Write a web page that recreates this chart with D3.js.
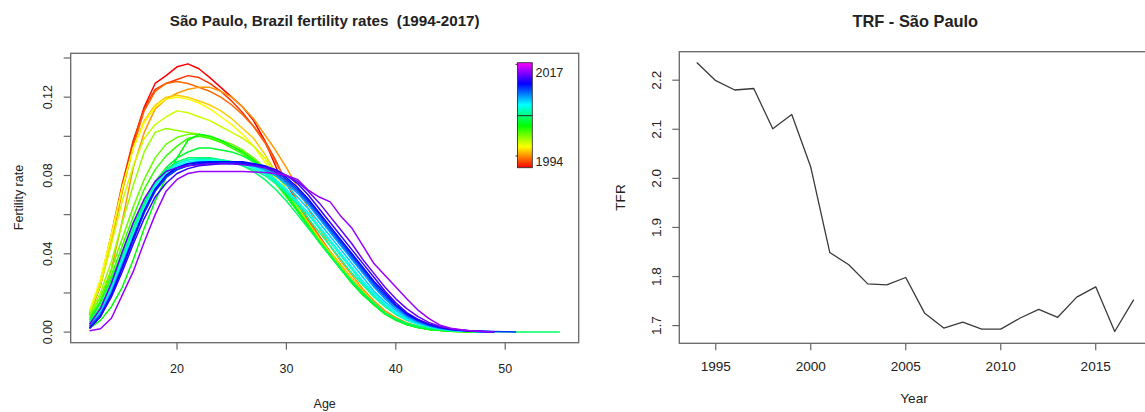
<!DOCTYPE html>
<html><head><meta charset="utf-8">
<script src="https://cdn.jsdelivr.net/npm/d3@7"></script>
<style>body{margin:0;background:#fff}svg{display:block;font-family:"Liberation Sans",Arial,sans-serif}</style>
</head><body><svg id="c" width="1145" height="412"></svg>
<script>
const ages = [12,13,14,15,16,17,18,19,20,21,22,23,24,25,26,27,28,29,30,31,32,33,34,35,36,37,38,39,40,41,42,43,44,45,46,47,48,49,50,51,52,53,54,55];
const years = [1994,1995,1996,1997,1998,1999,2000,2001,2002,2003,2004,2005,2006,2007,2008,2009,2010,2011,2012,2013,2014,2015,2016,2017];
const f1994 = [.009,.024,.048,.074,.097,.115,.127,.131,.1355,.137,.1345,.130,.125,.120,.115,.108,.098,.085,.072,.064,.056,.048,.040,.033,.026,.020,.014,.0095,.0065,.004,.0025,.0015,.001,.0006,.0004,.0002,.0001,.0001];
const f1995 = [.010,.026,.050,.076,.098,.114,.124,.127,.129,.131,.130,.127,.123,.118,.112,.105,.098,.088,.076,.066,.057,.049,.041,.034,.027,.021,.015,.010,.0068,.0043,.0027,.0016,.001,.0006,.0004,.0002,.0001,.0001];
const f1996 = [.009,.024,.046,.072,.095,.113,.123,.127,.128,.127,.125,.123,.120,.116,.111,.105,.097,.087,.077,.067,.058,.049,.041,.034,.027,.021,.015,.010,.0068,.0043,.0027,.0016,.001,.0006,.0004,.0002,.0001,.0001];
const f1997 = [.006,.015,.032,.057,.084,.102,.114,.119,.122,.124,.125,.125,.123,.120,.115,.109,.101,.093,.084,.074,.063,.053,.044,.036,.029,.022,.016,.011,.0075,.0048,.003,.0018,.0011,.0007,.0004,.0002,.0001,.0001];
const f1998 = [.010,.025,.048,.073,.094,.108,.116,.120,.121,.120,.118,.116,.113,.109,.104,.099,.091,.082,.073,.064,.056,.048,.041,.034,.027,.021,.015,.010,.0068,.0043,.0027,.0016,.001,.0006,.0004,.0002,.0001,.0001];
const f1999 = [.011,.027,.050,.074,.094,.107,.115,.119,.120,.119,.117,.114,.110,.106,.101,.095,.087,.079,.071,.062,.054,.046,.039,.032,.026,.020,.014,.0095,.0063,.004,.0025,.0015,.0009,.0005,.0003,.0002,.0001,.0001];
const f2000 = [.010,.024,.045,.067,.085,.099,.106,.110,.113,.112,.110,.108,.105,.102,.099,.095,.089,.081,.073,.064,.055,.047,.040,.033,.026,.020,.014,.0095,.0063,.004,.0025,.0015,.0009,.0005,.0003,.0002,.0001,.0001];
const f2001 = [.009,.020,.036,.056,.075,.092,.102,.104,.103,.102,.101,.099,.097,.095,.092,.088,.083,.077,.070,.062,.054,.046,.039,.032,.025,.019,.014,.0093,.0062,.0039,.0024,.0014,.0009,.0005,.0003,.0002,.0001,.0001];
const f2002 = [.008,.018,.032,.048,.064,.078,.089,.096,.0995,.101,.101,.100,.098,.096,.093,.089,.084,.078,.071,.063,.055,.047,.040,.033,.026,.020,.014,.0095,.0063,.004,.0025,.0015,.0009,.0005,.0003,.0002,.0001,.0001];
const f2003 = [.007,.016,.029,.044,.059,.073,.083,.090,.095,.099,.100,.099,.097,.094,.091,.087,.082,.076,.069,.062,.054,.046,.039,.032,.026,.020,.014,.0095,.0063,.004,.0025,.0015,.0009,.0005,.0003,.0002,.0001,.0001];
const f2004 = [.002,.006,.013,.023,.037,.053,.067,.079,.089,.098,.101,.100,.098,.095,.092,.088,.083,.077,.070,.062,.054,.046,.039,.032,.025,.019,.014,.0093,.0062,.0039,.0024,.0014,.0009,.0005,.0003,.0002,.0001,.0001];
const f2005 = [.006,.015,.027,.041,.055,.067,.077,.084,.089,.092,.094,.094,.093,.092,.090,.087,.083,.077,.070,.062,.054,.046,.039,.032,.025,.019,.014,.0093,.0062,.0039,.0024,.0014,.0009,.0005,.0003,.0002,.0001,.0001];
const f2006 = [.005,.013,.025,.039,.053,.066,.076,.083,.087,.089,.089,.089,.088,.087,.085,.082,.078,.073,.067,.060,.053,.046,.039,.032,.026,.020,.015,.010,.0068,.0045,.003,.002,.0013,.0009,.0006,.0004,.0003,.0002,.0002,.0001,.0001,.0001,.0001,.0001];
const f2007 = [.004,.012,.024,.038,.052,.065,.075,.082,.086,.088,.0885,.0885,.088,.087,.085,.083,.080,.076,.071,.065,.058,.051,.044,.037,.030,.024,.018,.013,.009,.006,.004,.0025,.0015,.001,.0006,.0004,.0002,.0001];
const f2008 = [.004,.011,.023,.037,.051,.064,.075,.082,.086,.088,.088,.088,.0875,.087,.086,.084,.081,.077,.072,.066,.060,.053,.046,.039,.032,.025,.019,.014,.0095,.0064,.0042,.0027,.0016,.001,.0006,.0004,.0002,.0001];
const f2009 = [.004,.011,.022,.036,.050,.063,.074,.081,.085,.087,.0875,.0875,.087,.0865,.086,.084,.082,.078,.073,.067,.061,.054,.047,.040,.033,.026,.020,.0145,.010,.0067,.0044,.0028,.0017,.001,.0006,.0004,.0002,.0001];
const f2010 = [.003,.010,.021,.035,.049,.062,.073,.080,.084,.086,.087,.087,.087,.0865,.086,.085,.083,.080,.075,.069,.063,.056,.049,.042,.035,.028,.021,.0155,.011,.0073,.0048,.003,.0018,.0011,.0007,.0004,.0002,.0001];
const f2011 = [.003,.009,.020,.034,.048,.061,.072,.079,.083,.085,.086,.0865,.0865,.0865,.086,.085,.083,.080,.076,.071,.065,.058,.051,.044,.037,.030,.023,.017,.012,.008,.0052,.0033,.002,.0012,.0007,.0004,.0002,.0001];
const f2012 = [.003,.009,.020,.034,.048,.062,.073,.080,.084,.086,.087,.087,.087,.087,.0865,.0855,.084,.081,.077,.072,.066,.059,.052,.045,.038,.031,.024,.018,.013,.0086,.0056,.0035,.0021,.0013,.0008,.0005,.0003,.0002];
const f2013 = [.002,.008,.019,.033,.047,.061,.072,.079,.083,.085,.086,.0865,.087,.087,.0865,.086,.0845,.082,.078,.073,.067,.060,.053,.046,.039,.032,.025,.019,.0135,.009,.006,.0038,.0023,.0014,.0009,.0006,.0004,.0003,.0002,.0001];
const f2014 = [.002,.008,.019,.033,.048,.062,.073,.080,.084,.086,.0865,.087,.087,.087,.087,.086,.085,.083,.079,.074,.068,.061,.054,.047,.040,.033,.026,.020,.014,.0095,.0063,.004,.0025,.0015,.0009,.0005,.0003,.0002];
const f2015 = [.002,.008,.018,.031,.045,.058,.069,.076,.081,.0835,.085,.0855,.086,.086,.086,.0855,.0845,.083,.080,.076,.070,.063,.056,.049,.042,.035,.028,.021,.015,.010,.0066,.0042,.0026,.0016,.001,.0006,.0003,.0002];
const f2016 = [.004,.012,.025,.041,.056,.068,.077,.082,.084,.085,.0855,.086,.086,.086,.0855,.085,.084,.082,.080,.077,.072,.066,.059,.052,.045,.037,.030,.023,.017,.012,.008,.005,.003,.0018,.001,.0006,.0003,.0002];
const f2017 = [.0007,.0017,.0071,.019,.031,.046,.060,.072,.078,.081,.082,.082,.082,.082,.082,.0818,.0815,.081,.080,.078,.0725,.069,.0665,.059,.053,.044,.035,.029,.023,.017,.0114,.007,.0037,.002,.0012,.0006,.0003,.0002];
const rates = [f1994,f1995,f1996,f1997,f1998,f1999,f2000,f2001,f2002,f2003,f2004,f2005,f2006,f2007,f2008,f2009,f2010,f2011,f2012,f2013,f2014,f2015,f2016,f2017];
const tfr = [2.236,2.199,2.180,2.183,2.101,2.130,2.023,1.849,1.824,1.785,1.783,1.798,1.725,1.695,1.707,1.693,1.693,1.715,1.733,1.717,1.758,1.779,1.688,1.753];
const leftXTicks = [20,30,40,50];
const leftYTicks = [0,0.02,0.04,0.06,0.08,0.10,0.12,0.14];
const leftYLabels = [0,0.04,0.08,0.12];
const rightXTicks = [1995,2000,2005,2010,2015];
const rightYTicks = [1.7,1.8,1.9,2.0,2.1,2.2];
const legendLabels = ["1994","2017"];

const svg = d3.select("#c");
const FG = "#222", AX = "#666", TL = 7;

function frame(x, y, fs, xt, yt, ylab, fmtY, xLabY) {
  const [x0,x1] = x.range(), [y0,y1] = y.range();
  svg.append("rect").attr("x",x0).attr("y",y1).attr("width",x1-x0).attr("height",y0-y1)
    .attr("fill","none").attr("stroke",AX).attr("stroke-width",1.3);
  const g = svg.append("g");
  xt.forEach(t=>{
    g.append("line").attr("x1",x(t)).attr("x2",x(t)).attr("y1",y0).attr("y2",y0+TL).attr("stroke",AX).attr("stroke-width",1.2);
    g.append("text").attr("x",x(t)).attr("y",xLabY).attr("text-anchor","middle").attr("dominant-baseline","central")
      .attr("font-size",fs).attr("fill",FG).text(t);
  });
  yt.forEach(t=>{
    g.append("line").attr("x1",x0).attr("x2",x0-TL).attr("y1",y(t)).attr("y2",y(t)).attr("stroke",AX).attr("stroke-width",1.2);
  });
  ylab.forEach(t=>{
    const lx = x0-23;
    g.append("text").attr("transform",`translate(${lx},${y(t)}) rotate(-90)`).attr("text-anchor","middle")
      .attr("dominant-baseline","central").attr("font-size",fs).attr("fill",FG).text(fmtY(t));
  });
}

// ---------- Left panel ----------
const xL = d3.scaleLinear().domain([10.28,56.72]).range([70.7,578.7]);
const yL = d3.scaleLinear().domain([-0.0054,0.1424]).range([342.7,53.3]);
frame(xL, yL, 12.5, leftXTicks, leftYTicks, leftYLabels, d3.format(".2f"), 369);

const lineL = d3.line().x((d,i)=>xL(ages[i])).y(d=>yL(d));
rates.forEach((r,i)=>{
  svg.append("path").attr("d",lineL(r)).attr("fill","none")
    .attr("stroke",d3.hsl(i*12,1,0.5).formatHex()).attr("stroke-width",1.5).attr("stroke-linejoin","round");
});

svg.append("text").attr("x",324.7).attr("y",20).attr("text-anchor","middle").attr("dominant-baseline","central")
  .attr("font-size",15.2).attr("font-weight","bold").attr("fill",FG).attr("xml:space","preserve")
  .text("São Paulo, Brazil fertility rates  (1994-2017)");
svg.append("text").attr("x",324.7).attr("y",403.5).attr("text-anchor","middle").attr("dominant-baseline","central")
  .attr("font-size",12.5).attr("fill",FG).text("Age");
svg.append("text").attr("transform","translate(18.5,197.5) rotate(-90)").attr("text-anchor","middle")
  .attr("dominant-baseline","central").attr("font-size",12.5).attr("fill",FG).text("Fertility rate");

// legend colour bar
const defs = svg.append("defs");
const grad = defs.append("linearGradient").attr("id","rb").attr("x1",0).attr("y1",1).attr("x2",0).attr("y2",0);
d3.range(0,301,20).forEach(h=>grad.append("stop").attr("offset",h/300).attr("stop-color",d3.hsl(h,1,0.5).formatHex()));
const lgY = d3.scaleLinear().domain([1994,2017]).range([156,64.3]);
svg.append("rect").attr("x",517.5).attr("y",62.7).attr("width",14.8).attr("height",105)
  .attr("fill","url(#rb)").attr("stroke","#333").attr("stroke-width",0.9);
svg.append("line").attr("x1",517.5).attr("x2",532.3).attr("y1",115.7).attr("y2",115.7).attr("stroke","#222").attr("stroke-width",1);
[1994,2017].forEach((yv,k)=>{
  svg.append("line").attr("x1",515.5).attr("x2",517.5).attr("y1",lgY(yv)).attr("y2",lgY(yv)).attr("stroke","#222");
  svg.append("text").attr("x",535.5).attr("y",k===0?161.7:73.3).attr("dominant-baseline","central")
    .attr("font-size",12.5).attr("fill",FG).text(legendLabels[k]);
});

// ---------- Right panel ----------
const xR = d3.scaleLinear().domain([1993.08,2017.92]).range([679.3,1151.2]);
const yR = d3.scaleLinear().domain([1.664,2.258]).range([343.3,51.7]);
frame(xR, yR, 13.6, rightXTicks, rightYTicks, rightYTicks, d3.format(".1f"), 366.5);
svg.append("path").attr("d",d3.line().x((d,i)=>xR(years[i])).y(d=>yR(d))(tfr))
  .attr("fill","none").attr("stroke","#3a3a3a").attr("stroke-width",1.3).attr("stroke-linejoin","round");
svg.append("text").attr("x",915.3).attr("y",21).attr("text-anchor","middle").attr("dominant-baseline","central")
  .attr("font-size",16.4).attr("font-weight","bold").attr("fill",FG).text("TRF - São Paulo");
svg.append("text").attr("x",914).attr("y",398).attr("text-anchor","middle").attr("dominant-baseline","central")
  .attr("font-size",13.6).attr("fill",FG).text("Year");
svg.append("text").attr("transform","translate(620,197.5) rotate(-90)").attr("text-anchor","middle")
  .attr("dominant-baseline","central").attr("font-size",13.6).attr("fill",FG).text("TFR");
</script></body></html>
